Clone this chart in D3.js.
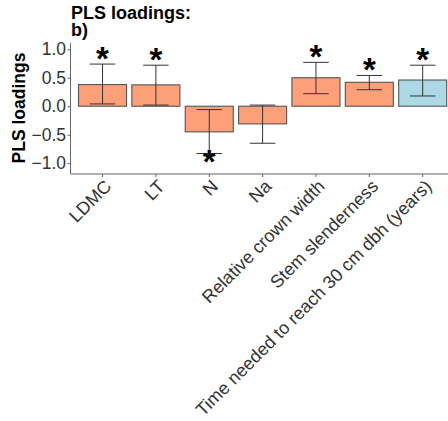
<!DOCTYPE html>
<html lang="en">
<head>
    <meta charset="utf-8">
    <title>PLS loadings</title>
    <style>
        body {
          margin:0;
          background:white;
          font-family: 'Liberation Sans', Arial, sans-serif;
        }
        svg {
          display:block;
        }
        .axis text {
          font-size:17.5px;
          fill:#333;
        }
        .axis path, .axis line {
          stroke:#666;
        }
    </style>
</head>
<body>
    <div id="canvas"></div>
<script src="https://cdnjs.cloudflare.com/ajax/libs/d3/7.8.5/d3.min.js"></script>
<script>
    // data
    var traits = ["LDMC", "LT", "N", "Na", "Relative crown width", "Stem slenderness", "Time needed to reach 30 cm dbh (years)"];
    var loadings = [0.38, 0.375, -0.45, -0.31, 0.50, 0.42, 0.46];
    var lower = [0.04, 0.02, -0.83, -0.65, 0.22, 0.29, 0.18];
    var upper = [0.74, 0.72, -0.06, 0.02, 0.77, 0.54, 0.72];
    var significant = [true, true, true, false, true, true, true];
    var group = ["a", "a", "a", "a", "a", "a", "b"];
    var yTicks = [1.0, 0.5, 0.0, -0.5, -1.0];

    var W = 448, H = 421;
    var plot = {left:70.5, right:454.7, top:43, bottom:174};

    var color = function(g) { return g == "b" ? "#ADD8E6" : "#FDA07A"; };

    var svg = d3.select("#canvas").append("svg")
        .attr("width", W)
        .attr("height", H);

    var x = d3.scaleBand().domain(traits).range([plot.left, plot.right])
        .paddingInner(0.1).paddingOuter(0.15);
    var y = d3.scaleLinear().domain([-1.19, 1.11]).range([plot.bottom, plot.top]);

    var data = traits.map(function(t, i) {
      return {trait:t, value:loadings[i], lo:lower[i], hi:upper[i], sig:significant[i], group:group[i]};
    });

    // bars
    svg.selectAll("rect.bar")
        .data(data)
      .enter().append("rect")
        .attr("class", "bar")
        .attr("x", function(d) { return x(d.trait); })
        .attr("width", x.bandwidth())
        .attr("y", function(d) { return y(Math.max(0, d.value)); })
        .attr("height", function(d) { return Math.abs(y(d.value) - y(0)); })
        .attr("fill", function(d) { return color(d.group); })
        .attr("stroke", "#555")
        .attr("stroke-width", 1.1);

    // error bars
    var ew = x.bandwidth() * 0.53;
    var cx = function(d) { return x(d.trait) + x.bandwidth()/2; };
    var err = svg.selectAll("g.err")
        .data(data)
      .enter().append("g")
        .attr("class", "err")
        .attr("stroke", "#333")
        .attr("stroke-width", 1);
    err.append("line")
        .attr("x1", cx)
        .attr("x2", cx)
        .attr("y1", function(d) { return y(d.lo); })
        .attr("y2", function(d) { return y(d.hi); });
    err.append("line")
        .attr("x1", function(d) { return cx(d) - ew/2; })
        .attr("x2", function(d) { return cx(d) + ew/2; })
        .attr("y1", function(d) { return y(d.lo); })
        .attr("y2", function(d) { return y(d.lo); });
    err.append("line")
        .attr("x1", function(d) { return cx(d) - ew/2; })
        .attr("x2", function(d) { return cx(d) + ew/2; })
        .attr("y1", function(d) { return y(d.hi); })
        .attr("y2", function(d) { return y(d.hi); });

    // significance stars
    svg.selectAll("text.star")
        .data(data.filter(function(d) { return d.sig; }))
      .enter().append("text")
        .attr("class", "star")
        .attr("x", cx)
        .attr("y", function(d) { return d.value > 0 ? y(d.hi) - 15 : y(d.lo) - 1; })
        .attr("dy", "0.62em")
        .style("text-anchor", "middle")
        .style("font-size", "33px")
        .style("font-weight", "bold")
        .text("*");

    // axes
    svg.append("g")
        .attr("class", "axis")
        .attr("transform", "translate(" + plot.left + ",0)")
        .call(d3.axisLeft(y).tickValues(yTicks).tickSize(3).tickPadding(1.5).tickFormat(d3.format(".1f")))
        .call(function(g) { g.select(".domain").attr("d", "M0," + plot.top + "V" + plot.bottom); });

    var xAxis = svg.append("g")
        .attr("class", "axis")
        .attr("transform", "translate(0," + plot.bottom + ")")
        .call(d3.axisBottom(x).tickSize(3).tickSizeOuter(0));
    xAxis.select(".domain").attr("d", "M" + plot.left + ",0H" + W);
    xAxis.selectAll("text")
        .attr("y", 0)
        .attr("dy", null)
        .style("font-size", "18px")
        .style("text-anchor", "end")
        .attr("transform", "translate(10,13.5) rotate(-45)");

    // titles
    svg.append("text")
        .attr("x", 71)
        .attr("y", 18.5)
        .style("font-size", "18px")
        .style("font-weight", "bold")
        .text("PLS loadings:");
    svg.append("text")
        .attr("x", 71)
        .attr("y", 35.5)
        .style("font-size", "18px")
        .style("font-weight", "bold")
        .text("b)");

    svg.append("text")
        .attr("transform", "rotate(-90)")
        .attr("x", -108)
        .attr("y", 25)
        .style("text-anchor", "middle")
        .style("font-size", "17.5px")
        .style("font-weight", "bold")
        .text("PLS loadings");
</script>
</body>
</html>
